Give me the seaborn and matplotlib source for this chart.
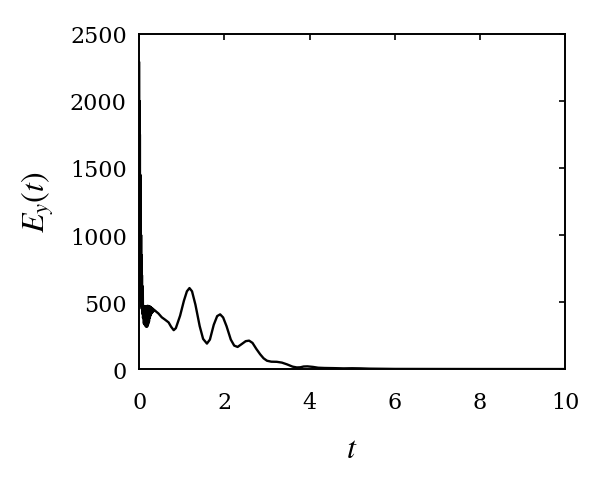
import matplotlib
matplotlib.use("Agg")
import matplotlib.pyplot as plt
import pandas as pd
import seaborn as sns

# ── data ───────────────────────────────────────────────────────────────────────

# initial spike, t in [0, 0.09]
t_spike = [0.000, 0.004, 0.008, 0.012, 0.016, 0.020, 0.025, 0.030, 0.035,
           0.040, 0.045, 0.050, 0.055, 0.060, 0.065, 0.070, 0.075, 0.080,
           0.085, 0.090]
e_spike = [2290, 700, 2000, 600, 1750, 560, 1450, 520, 1200,
           500, 1000, 470, 850, 450, 700, 430, 620, 410,
           560, 380]

# dense fast oscillation, t in (0.09, 0.40]
t_dense = [0.10, 0.11, 0.12, 0.13, 0.14, 0.15, 0.16, 0.17, 0.18, 0.19,
           0.20, 0.21, 0.22, 0.23, 0.24, 0.25, 0.26, 0.27, 0.28, 0.29,
           0.30, 0.31, 0.32, 0.33, 0.34, 0.35, 0.37, 0.40]
e_dense = [460, 340, 470, 330, 465, 320, 468, 315, 470, 318,
           472, 335, 470, 355, 468, 380, 465, 400, 460, 415,
           455, 425, 450, 430, 445, 435, 437, 428]

# slow damped part, t in (0.40, 10]
t_slow = [0.45, 0.53, 0.60, 0.69, 0.75, 0.81, 0.86, 0.96, 1.05, 1.12,
          1.18, 1.24, 1.32, 1.42, 1.50, 1.59, 1.66, 1.75, 1.83, 1.90,
          1.97, 2.05, 2.15, 2.23, 2.31, 2.40, 2.50, 2.58, 2.66, 2.75,
          2.84, 2.92, 3.00, 3.10, 3.23, 3.35, 3.47, 3.60, 3.70, 3.78,
          3.86, 3.95, 4.08, 4.20, 4.35, 4.55, 4.80, 5.00, 5.20, 5.40,
          5.70, 6.00, 7.00, 8.00, 10.00]
e_slow = [415, 386, 370, 348, 315, 290, 305, 398, 510, 580,
          604, 580, 480, 320, 225, 190, 220, 330, 395, 408,
          385, 320, 220, 175, 165, 185, 208, 212, 195, 150,
          110, 80, 62, 55, 54, 48, 35, 18, 12, 13,
          19, 20, 16, 10, 8, 7, 5, 6, 5, 3,
          2, 1, 0.5, 0.2, 0]

x_ticks = [0, 2, 4, 6, 8, 10]
y_ticks = [0, 500, 1000, 1500, 2000, 2500]

df = pd.DataFrame({
    "t": t_spike + t_dense + t_slow,
    "E": e_spike + e_dense + e_slow,
})

# ── style ──────────────────────────────────────────────────────────────────────

sns.set_style("white")
plt.rcParams["font.family"] = ["DejaVu Serif"]
plt.rcParams["mathtext.fontset"] = "stix"
plt.rcParams["axes.linewidth"] = 1.4
plt.rcParams["xtick.direction"] = "in"
plt.rcParams["ytick.direction"] = "in"
for key in ["text.color", "axes.labelcolor", "xtick.color", "ytick.color",
            "axes.edgecolor"]:
    plt.rcParams[key] = "black"

fig = plt.figure(figsize=(6.0, 4.85), dpi=100)
ax = fig.add_axes([0.232, 0.237, 0.71, 0.691])

sns.lineplot(data=df, x="t", y="E", ax=ax, color="black", linewidth=1.7,
             sort=False, estimator=None)

ax.set_xlim(0, 10)
ax.set_ylim(0, 2500)
ax.set_xticks(x_ticks)
ax.set_yticks(y_ticks)
ax.tick_params(axis="both", which="major", length=4, width=1.2,
               labelsize=16, top=True, right=True)
ax.tick_params(axis="x", pad=16)
ax.tick_params(axis="y", pad=9)
for s in ax.spines.values():
    s.set_visible(True)
    s.set_color("black")

ax.set_xlabel("$t$", fontsize=23, labelpad=14)
ax.set_ylabel("$E_y(t)$", fontsize=23, labelpad=10)

fig.savefig("out.png", dpi=100)
plt.close(fig)
